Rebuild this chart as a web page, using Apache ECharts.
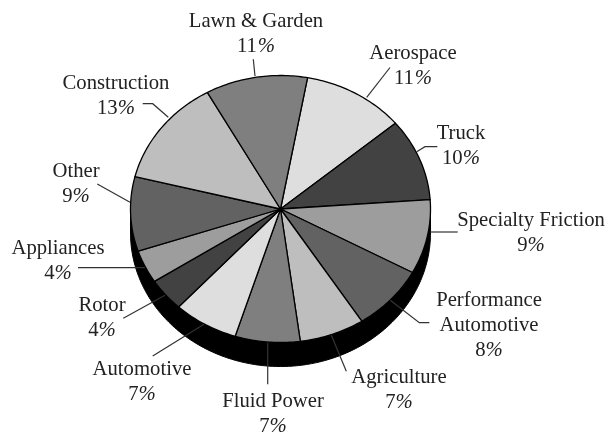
<!doctype html>
<html lang="en">
<head>
  <meta charset="utf-8">
  <title>Market share pie</title>
  <script src="https://cdn.jsdelivr.net/npm/echarts@6/dist/echarts.min.js"></script>
  <style>
    html, body { margin: 0; background: #fff; }
    #chart { width: 605px; height: 433px; }
  </style>
</head>
<body>
  <div id="chart"></div>
  <script type="text/javascript">
    // clockwise, starting at the aerospace slice
    const categories = ['Aerospace', 'Truck', 'Specialty Friction', 'Performance\nAutomotive', 'Agriculture',
      'Fluid Power', 'Automotive', 'Rotor', 'Appliances', 'Other', 'Construction', 'Lawn & Garden'];
    const shares = [11, 10, 9, 8, 7, 7, 7, 4, 4, 9, 13, 11];

    const sliceColors = ['#dedede', '#424242', '#9d9d9d', '#626262', '#bebebe', '#7f7f7f',
      '#dedede', '#424242', '#9d9d9d', '#626262', '#bebebe', '#7f7f7f'];
    // centre x and y of the first text line of each label
    const labelAt = [[413, 54], [461, 134], [531, 221], [489, 301], [399, 378], [273, 402],
      [142, 370], [102, 306], [58, 249], [76, 172], [116, 84], [256, 22]];
    const leaders = [
      [[366.7, 97.3], [390, 67.5]],
      [[416.7, 151.7], [425, 146.7], [437.3, 146.7]],
      [[430.3, 232], [457.7, 232]],
      [[390.3, 300.3], [419.3, 322.7], [429.3, 322.7]],
      [[331.3, 335.3], [346.3, 371.3]],
      [[267.7, 342.7], [267.7, 384.3]],
      [[204, 324.3], [152.7, 356]],
      [[165, 295.3], [123.3, 318.3]],
      [[145, 267.7], [78, 267.7]],
      [[130, 202.3], [97.3, 184]],
      [[168.3, 117.3], [152.7, 103.7], [142.7, 103.7]],
      [[255, 76], [253.3, 59.3]]
    ];
    const startDeg = 10.4;
    const depth = 0.18; // rim height, in y axis units
    const lineH = 25;
    const fontSize = 20.7;
    const total = shares.reduce((a, b) => a + b, 0);

    const onRim = (deg) => [Math.sin(deg * Math.PI / 180), Math.cos(deg * Math.PI / 180)];

    const renderSlice = (params, api) => {
      let from = startDeg;
      for (let i = 0; i < params.dataIndex; i++) from += shares[i] / total * 360;
      const to = from + api.value(0) / total * 360;
      const points = [api.coord([0, 0])];
      for (let a = from; a < to; a += 1) points.push(api.coord(onRim(a)));
      points.push(api.coord(onRim(to)));
      return {
        type: 'polygon',
        shape: { points: points },
        style: { fill: sliceColors[params.dataIndex], stroke: '#000', lineWidth: 1.3, lineJoin: 'round' }
      };
    };

    // black rim below the top face
    const renderRim = (params, api) => {
      const points = [];
      for (let a = 90; a <= 270; a += 1) {
        const p = onRim(a);
        points.push(api.coord([p[0], p[1] - depth]));
      }
      for (let a = 270; a >= 90; a -= 1) points.push(api.coord(onRim(a)));
      return { type: 'polygon', shape: { points: points }, style: { fill: '#000', stroke: '#000', lineWidth: 1 } };
    };

    const addText = (list, text, x, y, align, italic) => {
      list.push({
        type: 'text',
        z: 10,
        x: x,
        y: y,
        style: {
          text: text,
          align: align,
          verticalAlign: 'middle',
          fill: '#222',
          font: (italic ? 'italic ' : '') + fontSize + 'px "Liberation Serif"'
        }
      });
    };

    const graphics = [];
    categories.forEach((name, i) => {
      const x = labelAt[i][0];
      const y = labelAt[i][1];
      const lines = name.split('\n');
      lines.forEach((line, j) => addText(graphics, line, x, y + j * lineH, 'center', false));
      // number upright and percent sign slanted, side by side around the centre
      const num = String(shares[i]);
      const numW = num.length * 0.5 * fontSize;
      const left = x - (numW + 0.833 * fontSize) / 2;
      addText(graphics, num, left, y + lines.length * lineH, 'left', false);
      addText(graphics, '%', left + numW, y + lines.length * lineH, 'left', true);
      graphics.push({
        type: 'polyline',
        z: 10,
        shape: { points: leaders[i] },
        style: { stroke: '#333', lineWidth: 1.2, fill: null }
      });
    });

    const chart = echarts.init(document.getElementById('chart'), null, { renderer: 'canvas' });
    chart.setOption({
      animation: false,
      backgroundColor: '#fff',
      grid: { left: 130.5, right: 174.5, top: 75.5, bottom: 90.5 },
      xAxis: { type: 'value', min: -1, max: 1, show: false },
      yAxis: { type: 'value', min: -1, max: 1, show: false },
      graphic: graphics,
      series: [
        {
          type: 'custom',
          coordinateSystem: 'cartesian2d',
          clip: false,
          silent: true,
          z: 1,
          renderItem: renderRim,
          data: [[total]]
        },
        {
          type: 'custom',
          name: 'Share',
          coordinateSystem: 'cartesian2d',
          clip: false,
          silent: true,
          z: 2,
          renderItem: renderSlice,
          data: shares.map((v, i) => ({ name: categories[i], value: [v] }))
        }
      ]
    });
  </script>
</body>
</html>
